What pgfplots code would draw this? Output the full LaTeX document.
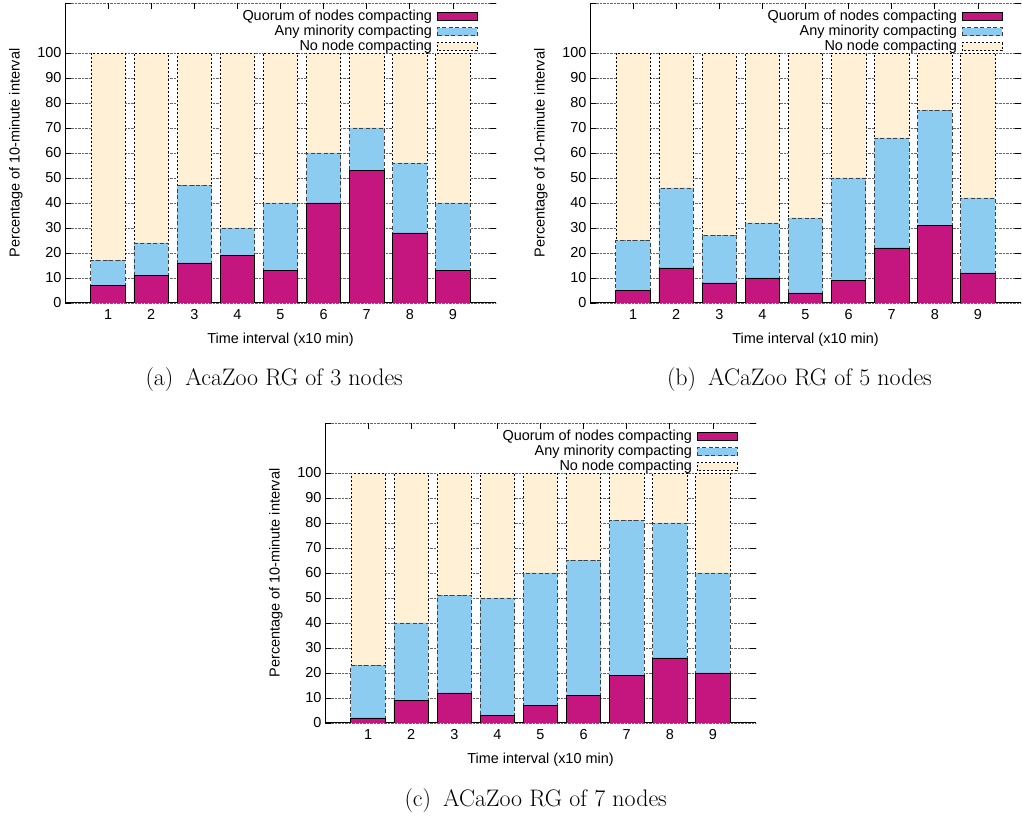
\documentclass[border=0pt]{standalone}
\usepackage{fontspec}
\usepackage{pgfplots}
\usepackage{pgfplotstable}
\pgfplotsset{compat=1.18}
\newfontfamily\arial{Liberation Sans}
\definecolor{cmag}{RGB}{197,22,128}
\definecolor{cblue}{RGB}{140,204,240}
\definecolor{ccream}{RGB}{255,240,214}

\pgfplotstableread{
x q m n
1 7 10 83
2 11 13 76
3 16 31 53
4 19 11 70
5 13 27 60
6 40 20 40
7 53 17 30
8 28 28 44
9 13 27 60
}\dataA
\pgfplotstableread{
x q m n
1 5 20 75
2 14 32 54
3 8 19 73
4 10 22 68
5 4 30 66
6 9 41 50
7 22 44 34
8 31 46 23
9 12 30 58
}\dataB
\pgfplotstableread{
x q m n
1 2 21 77
2 9 31 60
3 12 39 49
4 3 47 50
5 7 53 40
6 11 54 35
7 19 62 19
8 26 54 20
9 20 40 40
}\dataC

\pgfplotsset{
  compbar/.style={
    width=431bp, height=300bp, scale only axis,
    xmin=0, xmax=10, ymin=0, ymax=120,
    ybar stacked, bar width=0.8,
    axis x line*=bottom, axis y line*=left,
    axis line style={draw=none, -},
    xtick={1,...,9},
    xticklabels={1,2,3,4,5,6,7,8,9},
    ytick={0,10,20,30,40,50,60,70,80,90,100,120},
    yticklabels={0,10,20,30,40,50,60,70,80,90,100,{}},
    tick align=inside, major tick length=6bp,
    ymajorgrids, major grid style={densely dotted, black!60, line width=0.6bp},
    tick style={black, line width=0.8bp},
    font=\arial\fontsize{14.5}{17}\selectfont,
    /pgf/number format/assume math mode=true,
    xticklabel style={yshift=-3bp},
    xlabel={Time interval (x10 min)},
    ylabel={Percentage of 10-minute interval},
    every axis x label/.style={at={(rel axis cs:0.5,0)}, anchor=center, yshift=-37bp},
    every axis y label/.style={at={(rel axis cs:0,0.5)}, anchor=center, xshift=-49bp, rotate=90},
    legend plot pos=right, legend cell align=right,
    legend style={draw=none, fill=none, at={(rel axis cs:1,1)}, anchor=north east,
      xshift=-15bp, yshift=-4bp, row sep=0bp, column sep=4bp,
      nodes={inner sep=1bp, text height=10bp, text depth=3bp}},
    legend image code/.code={\draw[##1] (0bp,-4bp) rectangle (40bp,4bp);},
  },
  sq/.style={fill=cmag, draw=black, line width=0.8bp},
  sm/.style={fill=cblue, draw=black!75, line width=0.8bp, dash pattern=on 4bp off 2.5bp},
  sn/.style={fill=ccream, draw=black, line width=0.7bp, dash pattern=on 2bp off 2bp},
}
\newcommand{\frameticks}{%
  \pgfplotsinvokeforeach{1,2,3,4,5,6,7,8,9}{\draw[line width=0.8bp] (axis cs:##1,120) -- ++(0,-6bp);}%
  \pgfplotsinvokeforeach{0,10,20,30,40,50,60,70,80,90,100,120}{\draw[line width=0.8bp] (axis cs:10,##1) -- ++(-6bp,0);}%
  \draw[line width=1.6bp] (rel axis cs:0,1) -- (rel axis cs:0,0) -- (rel axis cs:1,0);%
}

\begin{document}
\begin{tikzpicture}
\useasboundingbox (0,0) rectangle (1022bp,817bp);

\begin{axis}[compbar, at={(65bp,514bp)}, anchor=south west]
\addplot[sq] table[x=x,y=q]{\dataA};
\addplot[sm] table[x=x,y=m]{\dataA};
\addplot[sn] table[x=x,y=n]{\dataA};
\legend{Quorum of nodes compacting, Any minority compacting, No node compacting}
\frameticks
\end{axis}

\begin{axis}[compbar, at={(590bp,514bp)}, anchor=south west]
\addplot[sq] table[x=x,y=q]{\dataB};
\addplot[sm] table[x=x,y=m]{\dataB};
\addplot[sn] table[x=x,y=n]{\dataB};
\legend{Quorum of nodes compacting, Any minority compacting, No node compacting}
\frameticks
\end{axis}

\begin{axis}[compbar, at={(325bp,94bp)}, anchor=south west]
\addplot[sq] table[x=x,y=q]{\dataC};
\addplot[sm] table[x=x,y=m]{\dataC};
\addplot[sn] table[x=x,y=n]{\dataC};
\legend{Quorum of nodes compacting, Any minority compacting, No node compacting}
\frameticks
\end{axis}

\node[anchor=base east, font=\fontsize{24}{28}\selectfont, inner sep=0] at (403bp,431bp) {(a)\hspace{0.5em}AcaZoo RG of 3 nodes};
\node[anchor=base east, font=\fontsize{24}{28}\selectfont, inner sep=0] at (932bp,431bp) {(b)\hspace{0.5em}ACaZoo RG of 5 nodes};
\node[anchor=base east, font=\fontsize{24}{28}\selectfont, inner sep=0] at (667bp,11bp) {(c)\hspace{0.5em}ACaZoo RG of 7 nodes};
\end{tikzpicture}
\end{document}
